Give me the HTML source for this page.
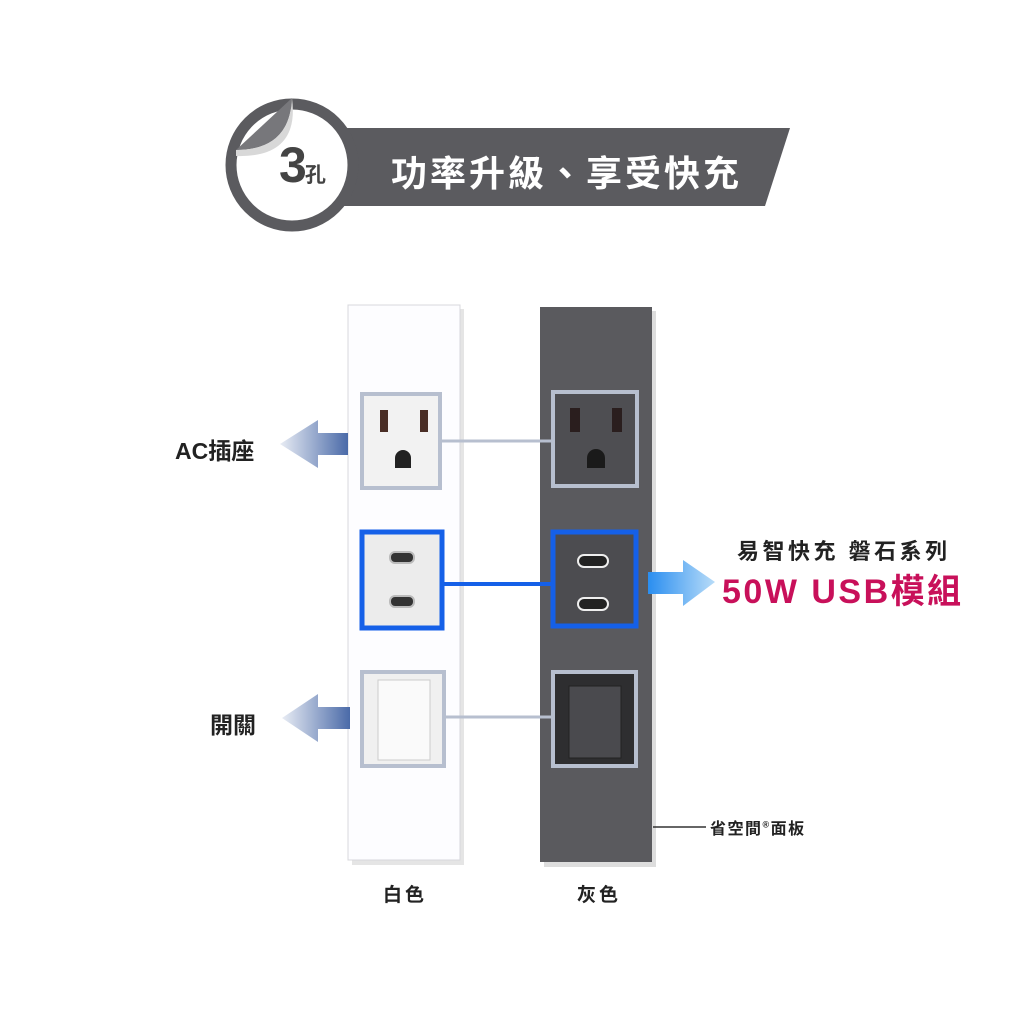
<!DOCTYPE html>
<html><head><meta charset="utf-8"><style>
html,body{margin:0;padding:0;background:#fff}
#c{position:relative;width:1024px;height:1024px;overflow:hidden;background:#fff;font-family:"Liberation Sans","Noto Sans CJK TC",sans-serif}
.t{position:absolute;white-space:nowrap;font-weight:bold;color:#222}
</style></head><body><div id="c">
<svg width="1024" height="1024" style="position:absolute;left:0;top:0">
<defs>
<linearGradient id="al" x1="1" x2="0"><stop offset="0" stop-color="#4a6aa8"/><stop offset="1" stop-color="#e8ecf4"/></linearGradient>
<linearGradient id="ar" x1="0" x2="1"><stop offset="0" stop-color="#2a8ef0"/><stop offset="1" stop-color="#b8dcf8"/></linearGradient>
</defs>
<polygon points="335,128 790,128 765,206 335,206" fill="#5b5b5f"/>
<circle cx="292" cy="165" r="61" fill="#fff" stroke="#5b5b5f" stroke-width="11"/>
<path d="M236,150 L292,98 Q290,150 236,150 Z" fill="#77777b"/>
<path d="M236,150 Q290,150 292,98 Q300,158 236,156 Z" fill="#d8d8d8"/>
<rect x="352" y="309" width="112" height="556" fill="#ccc" opacity="0.5"/>
<rect x="348" y="305" width="112" height="555" fill="#fdfdff" stroke="#d8d8dc"/>
<rect x="544" y="311" width="112" height="556" fill="#bbb" opacity="0.5"/>
<rect x="540" y="307" width="112" height="555" fill="#5a5a5e"/>
<line x1="441" y1="441" x2="553" y2="441" stroke="#b7bfcf" stroke-width="3"/>
<line x1="444" y1="584" x2="553" y2="584" stroke="#1560e8" stroke-width="4"/>
<line x1="446" y1="717" x2="553" y2="717" stroke="#b7bfcf" stroke-width="3"/>
<rect x="362" y="394" width="78" height="94" fill="#f2f2f2" stroke="#b7bfcf" stroke-width="4"/>
<rect x="380" y="410" width="8" height="22" fill="#4a2e26"/><rect x="420" y="410" width="8" height="22" fill="#4a2e26"/>
<path d="M395,468 v-10 a8,8 0 0 1 16,0 v10z" fill="#222"/>
<rect x="553" y="392" width="84" height="94" fill="#4e4e52" stroke="#b7bfcf" stroke-width="4"/>
<rect x="570" y="408" width="10" height="24" fill="#2a1e1e"/><rect x="612" y="408" width="10" height="24" fill="#2a1e1e"/>
<path d="M587,468 v-10 a9,9 0 0 1 18,0 v10z" fill="#1a1a1a"/>
<rect x="362" y="532" width="80" height="96" fill="#ececec" stroke="#1560e8" stroke-width="5"/>
<rect x="390" y="552" width="24" height="11" rx="5" fill="#333" stroke="#bbb" stroke-width="2"/>
<rect x="390" y="596" width="24" height="11" rx="5" fill="#333" stroke="#bbb" stroke-width="2"/>
<rect x="553" y="532" width="83" height="94" fill="#4c4c50" stroke="#1560e8" stroke-width="5"/>
<rect x="578" y="555" width="30" height="12" rx="6" fill="#222" stroke="#eee" stroke-width="2"/>
<rect x="578" y="598" width="30" height="12" rx="6" fill="#222" stroke="#eee" stroke-width="2"/>
<rect x="362" y="672" width="82" height="94" fill="#f0f0f0" stroke="#b7bfcf" stroke-width="4"/>
<rect x="378" y="680" width="52" height="80" fill="#fafafa" stroke="#ccc"/>
<rect x="553" y="672" width="83" height="94" fill="#2e2e30" stroke="#b7bfcf" stroke-width="4"/>
<rect x="569" y="686" width="52" height="72" fill="#4a4a4e" stroke="#222"/>
<polygon points="280,444 318,420 318,433 348,433 348,455 318,455 318,468" fill="url(#al)"/>
<polygon points="282,718 318,694 318,707 350,707 350,729 318,729 318,742" fill="url(#al)"/>
<polygon points="715,582 683,560 683,572 648,572 648,594 683,594 683,606" fill="url(#ar)"/>
<line x1="653" y1="827" x2="706" y2="827" stroke="#333" stroke-width="1.5"/>
</svg>
<div class="t" style="left:279px;top:136px;font-size:50px;color:#444;letter-spacing:-2px">3<span style="font-size:21px">孔</span></div>
<div class="t" style="left:391px;top:145px;font-size:36px;color:#fff;letter-spacing:3px">功率升級、享受快充</div>
<div class="t" style="left:175px;top:432px;font-size:23px">AC插座</div>
<div class="t" style="left:210px;top:706px;font-size:23px">開關</div>
<div class="t" style="left:737px;top:534px;font-size:22px;letter-spacing:3.5px">易智快充 磐石系列</div>
<div class="t" style="left:722px;top:564px;font-size:34px;color:#c8105a;letter-spacing:2.5px">50W USB模組</div>
<div class="t" style="left:710px;top:815px;font-size:16px;letter-spacing:1.5px">省空間<sup style="font-size:9px">®</sup>面板</div>
<div class="t" style="left:383px;top:880px;font-size:19px;letter-spacing:3px">白色</div>
<div class="t" style="left:577px;top:880px;font-size:19px;letter-spacing:3px">灰色</div>
</div></body></html>
